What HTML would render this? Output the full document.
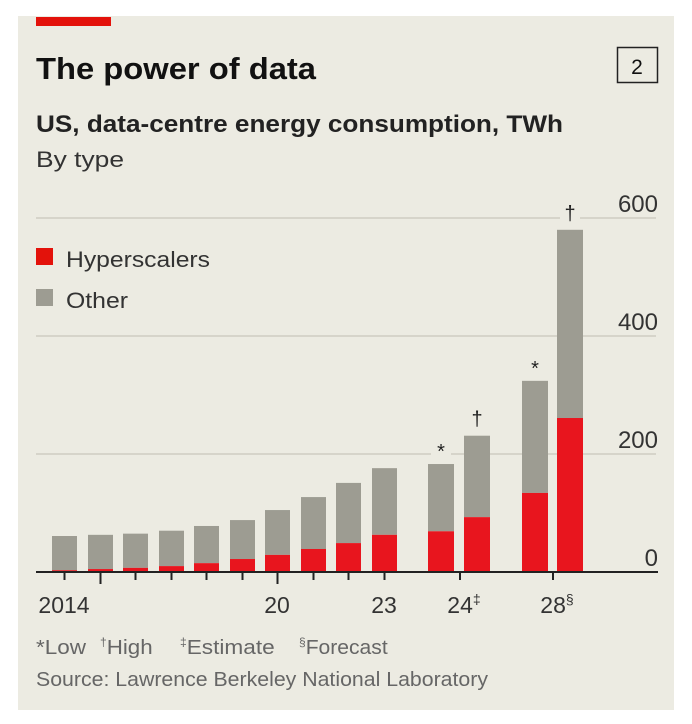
<!DOCTYPE html>
<html><head><meta charset="utf-8"><style>
body{margin:0;background:#fff;}
#wrap{position:relative;width:692px;height:724px;background:#fff;font-family:"Liberation Sans",sans-serif;}
#card{position:absolute;left:18px;top:16px;width:656px;height:694px;background:#ecebe2;}
</style></head><body>
<div id="wrap">
<div id="card"></div>
<svg width="692" height="724" style="position:absolute;left:0;top:0">
<rect x="36" y="17" width="75" height="9" fill="#e3120b"/>
<text x="36" y="79" font-size="31" font-weight="bold" fill="#111" textLength="280" lengthAdjust="spacingAndGlyphs">The power of data</text>
<rect x="617.5" y="47.5" width="40" height="35" fill="none" stroke="#222" stroke-width="1.5"/>
<text x="637" y="74" font-size="21" text-anchor="middle" fill="#111">2</text>
<text x="36" y="132" font-size="24" font-weight="bold" fill="#222" textLength="527" lengthAdjust="spacingAndGlyphs">US, data-centre energy consumption, TWh</text>
<text x="36" y="167" font-size="22" fill="#333" textLength="88" lengthAdjust="spacingAndGlyphs">By type</text>
<g id="grid"></g>
<g id="bars"></g>
<g id="axis"></g>
<rect x="36" y="248" width="17" height="17" fill="#e3120b"/>
<text x="66" y="267" font-size="22" fill="#333" textLength="144" lengthAdjust="spacingAndGlyphs">Hyperscalers</text>
<rect x="36" y="289" width="17" height="17" fill="#9d9c92"/>
<text x="66" y="308" font-size="22" fill="#333" textLength="62" lengthAdjust="spacingAndGlyphs">Other</text>
<g font-size="20" fill="#666">
<text x="36" y="654" textLength="50" lengthAdjust="spacingAndGlyphs">*Low</text>
<text x="100" y="654"><tspan font-size="12" dy="-8">†</tspan><tspan dy="8" textLength="46" lengthAdjust="spacingAndGlyphs">High</tspan></text>
<text x="180" y="654"><tspan font-size="12" dy="-8">‡</tspan><tspan dy="8" textLength="88" lengthAdjust="spacingAndGlyphs">Estimate</tspan></text>
<text x="299" y="654"><tspan font-size="12" dy="-8">§</tspan><tspan dy="8" textLength="82" lengthAdjust="spacingAndGlyphs">Forecast</tspan></text>
</g>
<text x="36" y="686" font-size="20" fill="#666" textLength="452" lengthAdjust="spacingAndGlyphs">Source: Lawrence Berkeley National Laboratory</text>
</svg>
</div>
<script>
const categories=["2014","2015","2016","2017","2018","2019","2020","2021","2022","2023","2024 low","2024 high","2028 low","2028 high"];
const hyperscalers=[3,5,7,10,15,22,29,39,49,63,69,93,134,261];
const totals=[61,63,65,70,78,88,105,127,151,176,183,231,324,580];
const marks=["","","","","","","","","","","*","†","*","†"];
const yTicks=[0,200,400,600];
const NS="http://www.w3.org/2000/svg";
const y0=572,k=0.59;
function y(v){return y0-v*k;}
const xs=[52,88,123,159,194,230,265,301,336,372,428,464,522,557];
function el(t,a,p){const e=document.createElementNS(NS,t);for(const q in a)e.setAttribute(q,a[q]);p.appendChild(e);return e;}
const grid=document.getElementById('grid'),bars=document.getElementById('bars'),axis=document.getElementById('axis');
yTicks.forEach(t=>{if(t===0)return;
const l=el('line',{x1:36,x2:656,y1:y(t),y2:y(t),stroke:'#c8c7bd','stroke-width':1.3},grid);

});
yTicks.forEach(t=>{const tx=el('text',{x:658,y:y(t)-6,'font-size':24,'text-anchor':'end',fill:'#333'},axis);tx.textContent=t;

});
categories.forEach((c,i)=>{
const x=xs[i],w=i>=10?26:25;
const g=el('rect',{x:x,y:y(totals[i]),width:w,height:(totals[i]-hyperscalers[i])*k,fill:'#9d9c92'},bars);


const r=el('rect',{x:x,y:y(hyperscalers[i]),width:w,height:hyperscalers[i]*k,fill:'#e8151e'},bars);


if(marks[i]){el('rect',{x:x+w/2-10,y:y(totals[i])-34,width:20,height:26,fill:'#ecebe2'},grid);
const m=el('text',{x:x+w/2,y:y(totals[i])-(marks[i]=='*'?6:10),'font-size':20,'text-anchor':'middle',fill:'#222'},bars);m.textContent=marks[i];

}
if(i<10){const tl=el('line',{x1:x+12.5,x2:x+12.5,y1:y0,y2:(i==1||i==6)?y0+12:y0+8,stroke:'#222','stroke-width':2},axis);

}
});
[[460],[553]].forEach(a=>{const tl=el('line',{x1:a[0],x2:a[0],y1:y0,y2:y0+8,stroke:'#222','stroke-width':2},axis);

});
const bl=el('line',{x1:36,x2:658,y1:y0,y2:y0,stroke:'#222','stroke-width':2},axis);


const xl=[["2014",64],["20",277],["23",384],["24‡",460],["28§",553]];
xl.forEach(p=>{const t=el('text',{x:p[1],y:613,'font-size':23,'text-anchor':'middle',fill:'#333'},axis);
const base=p[0].replace(/[‡§]/,''),sup=p[0].slice(base.length);
t.textContent=base;
if(sup){const s=el('tspan',{'font-size':14,dy:-9},t);s.textContent=sup;t.setAttribute('x',p[1]+4);}

});
</script>
</body></html>
